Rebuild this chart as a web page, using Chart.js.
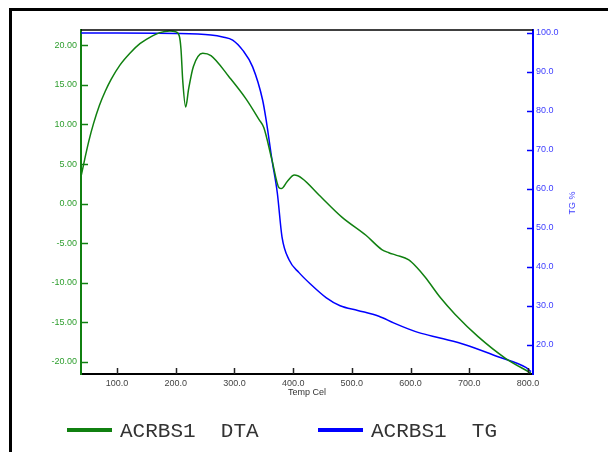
<!DOCTYPE html>
<html>
<head>
<meta charset="utf-8">
<script src="https://cdn.jsdelivr.net/npm/chart.js@4.4.1/dist/chart.umd.min.js"></script>
<style>
  html, body { margin: 0; padding: 0; background: #fff; }
  #wrap { position: relative; width: 608px; height: 452px; overflow: hidden; }
  #frame { position: absolute; left: 9px; top: 8px; width: 620px; height: 460px;
           border-top: 3px solid #000; border-left: 3px solid #000; pointer-events: none; }
  .swatch { position: absolute; top: 428px; width: 45px; height: 4px; }
  .legtxt { position: absolute; top: 421px; font-family: "Liberation Mono", "Courier New", monospace;
            font-size: 21px; line-height: 21px; color: #333; white-space: pre; }
</style>
</head>
<body>
<div id="wrap">
  <canvas id="thermo" width="608" height="452"></canvas>
  <div id="frame"></div>
  <div class="swatch" style="left:67px; background:#108010;"></div>
  <div class="legtxt" style="left:120px;">ACRBS1  DTA</div>
  <div class="swatch" style="left:318px; background:#0000ff;"></div>
  <div class="legtxt" style="left:371px;">ACRBS1  TG</div>
</div>
<script>
// DTA curve (left axis)
const dtaTemp = [39, 45, 52, 60, 70, 80, 90, 105, 122, 139, 156, 173, 190, 200, 206, 209, 212, 217, 222, 230, 246, 260,
                 291, 320, 342, 350, 364, 376, 380, 390, 402, 415, 444, 483, 524, 551, 563, 575, 597, 610,
                 625, 651, 676, 715, 761, 805];
const dtaVal  = [3.5, 5.6, 7.9, 10.1, 12.4, 14.2, 15.7, 17.5, 19.0, 20.2, 21.0, 21.6, 21.8, 21.7, 21.2, 19.5, 15.5, 12.2, 14.5, 17.3, 19.0, 18.7,
                 16.0, 13.2, 10.6, 9.6, 5.5, 2.0, 1.9, 2.8, 3.6, 3.2, 1.1, -1.7, -4.0, -5.8, -6.2, -6.5, -7.1, -8.0,
                 -9.3, -11.9, -14.0, -16.8, -19.5, -21.4];

// TG curve (right axis)
const tgTemp = [39, 100, 200, 260, 280, 297, 314, 331, 348, 354, 364, 373, 381, 393, 410, 430, 456, 480,
                510, 546, 571, 597, 614, 650, 693, 749, 797, 805];
const tgVal  = [100.0, 100.0, 99.9, 99.5, 99.0, 98.2, 95.6, 91.3, 82.8, 77.7, 67.4, 59.0, 47.7, 41.8, 38.5, 35.5, 32.1, 30.0,
                28.8, 27.3, 25.6, 24.0, 23.1, 21.7, 20.0, 16.9, 14.1, 13.1];

const xTicks = [100, 200, 300, 400, 500, 600, 700, 800];
const dtaTicks = [-20, -15, -10, -5, 0, 5, 10, 15, 20];
const tgTicks = [20, 30, 40, 50, 60, 70, 80, 90, 100];

const lineGreen = '#108010';
const lineBlue = '#0000ff';

function toPoints(xs, ys) {
  return xs.map((x, i) => ({ x: x, y: ys[i] }));
}

// ticks point inward, top border closes the box, axis titles
const axisDecor = {
  id: 'axisDecor',
  afterDraw(chart) {
    const { ctx, chartArea: a, scales } = chart;
    const seg = (x1, y1, x2, y2) => { ctx.beginPath(); ctx.moveTo(x1, y1); ctx.lineTo(x2, y2); ctx.stroke(); };
    ctx.save();
    ctx.strokeStyle = '#000';
    ctx.lineWidth = 1.5;
    seg(a.left, a.top, a.right, a.top);

    ctx.lineWidth = 1.5;
    ctx.strokeStyle = '#222';
    scales.x.ticks.forEach(t => {
      const px = Math.round(scales.x.getPixelForValue(t.value)) + 0.5;
      seg(px, a.bottom, px, a.bottom - 6);
    });
    ctx.strokeStyle = lineGreen;
    scales.yL.ticks.forEach(t => {
      const py = Math.round(scales.yL.getPixelForValue(t.value)) + 0.5;
      seg(a.left, py, a.left + 7, py);
    });
    ctx.strokeStyle = lineBlue;
    scales.yR.ticks.forEach(t => {
      const py = Math.round(scales.yR.getPixelForValue(t.value)) + 0.5;
      seg(a.right - 6, py, a.right, py);
    });

    ctx.font = '9px "Liberation Sans", Arial, sans-serif';
    ctx.textAlign = 'center';
    ctx.textBaseline = 'middle';
    ctx.fillStyle = '#333';
    ctx.fillText('Temp Cel', (a.left + a.right) / 2, a.bottom + 19);
    ctx.translate(573, 203);
    ctx.rotate(-Math.PI / 2);
    ctx.fillStyle = '#4040ff';
    ctx.fillText('TG %', 0, 0);
    ctx.restore();
  }
};

const tickFont = { family: '"Liberation Sans", Arial, sans-serif', size: 9 };

new Chart(document.getElementById('thermo'), {
  type: 'line',
  data: {
    datasets: [
      {
        label: 'ACRBS1  DTA',
        data: toPoints(dtaTemp, dtaVal),
        yAxisID: 'yL',
        borderColor: lineGreen,
        borderWidth: 1.5,
        pointRadius: 0,
        cubicInterpolationMode: 'monotone'
      },
      {
        label: 'ACRBS1  TG',
        data: toPoints(tgTemp, tgVal),
        yAxisID: 'yR',
        borderColor: lineBlue,
        borderWidth: 1.5,
        pointRadius: 0,
        cubicInterpolationMode: 'monotone'
      }
    ]
  },
  options: {
    responsive: false,
    animation: false,
    layout: { padding: { top: 30, left: 0, right: 0, bottom: 0 } },
    plugins: { legend: { display: false }, tooltip: { enabled: false } },
    scales: {
      x: {
        type: 'linear',
        min: 38.7,
        max: 808.5,
        afterBuildTicks: s => { s.ticks = xTicks.map(v => ({ value: v })); },
        afterFit: s => { s.height = 78; },
        grid: { display: true, drawOnChartArea: false, drawTicks: false },
        border: { color: '#000', width: 2 },
        ticks: { padding: 4, color: '#444', font: tickFont, maxRotation: 0, autoSkip: false,
                 callback: v => v.toFixed(1) }
      },
      yL: {
        position: 'left',
        min: -21.52,
        max: 21.93,
        afterBuildTicks: s => { s.ticks = dtaTicks.map(v => ({ value: v })); },
        afterFit: s => { s.width = 81; },
        grid: { display: true, drawOnChartArea: false, drawTicks: false },
        border: { color: lineGreen, width: 2 },
        ticks: { padding: 4, color: '#2e9e2e', font: tickFont, autoSkip: false,
                 callback: v => v.toFixed(2) }
      },
      yR: {
        position: 'right',
        min: 12.48,
        max: 100.77,
        afterBuildTicks: s => { s.ticks = tgTicks.map(v => ({ value: v })); },
        afterFit: s => { s.width = 75; },
        grid: { display: true, drawOnChartArea: false, drawTicks: false },
        border: { color: lineBlue, width: 2 },
        ticks: { padding: 3, color: '#4040ff', font: tickFont, autoSkip: false,
                 callback: v => v.toFixed(1) }
      }
    }
  },
  plugins: [axisDecor]
});
</script>
</body>
</html>
